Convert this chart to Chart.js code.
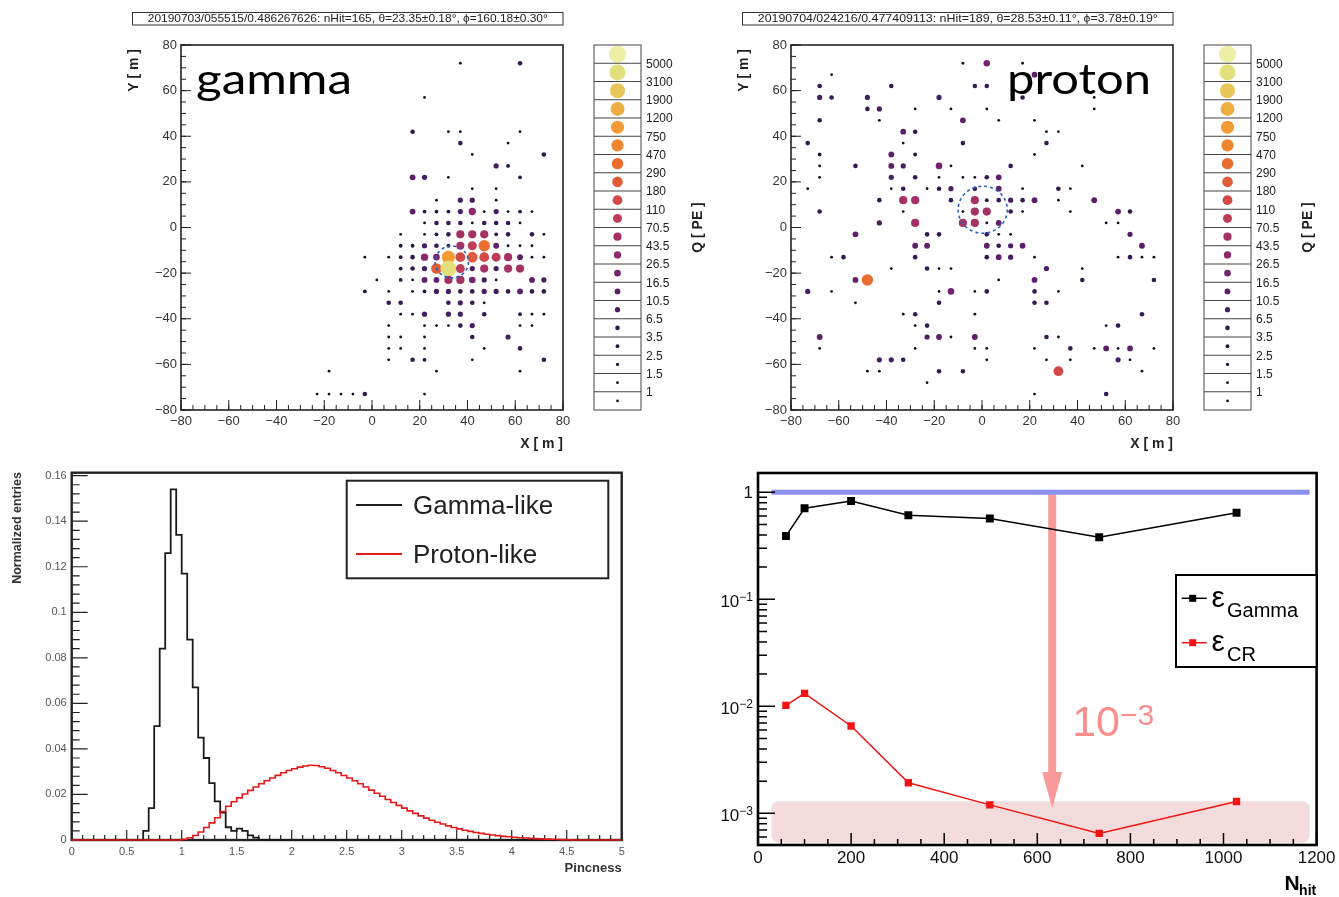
<!DOCTYPE html>
<html>
<head>
<meta charset="utf-8">
<title>Hit maps and gamma/hadron separation</title>
<script src="https://cdn.jsdelivr.net/npm/chart.js"></script>
<style>
body { margin: 0; background: #fff; }
#page { position: relative; width: 1339px; height: 897px; overflow: hidden; }
#page canvas { position: absolute; }
#gammaMap { left: 0; top: 0; }
#protonMap { left: 610px; top: 0; }
#pinchHist { left: 0; top: 455px; filter: blur(0.6px); }
#effChart { left: 700px; top: 455px; }
</style>
</head>
<body>
<div id="page">
  <canvas id="gammaMap" width="710" height="455"></canvas>
  <canvas id="protonMap" width="710" height="455"></canvas>
  <canvas id="pinchHist" width="650" height="442"></canvas>
  <canvas id="effChart" width="639" height="442"></canvas>
</div>

<script>
const SANS = '"Liberation Sans", Arial, sans-serif';
Chart.defaults.font.family = SANS;
Chart.defaults.color = '#222';

// ---------- event displays ----------
// charge bins of the colour key, in PE
const qEdges = [1, 1.5, 2.5, 3.5, 6.5, 10.5, 16.5, 26.5, 43.5, 70.5, 110, 180, 290, 470, 750, 1200, 1900, 3100, 5000];
const qColors = ['#0c0a1c', '#100c24', '#150f2c', '#22163f', '#321a52', '#471e60', '#5c2068', '#74246e',
                 '#8e2a6c', '#a63264', '#c03b58', '#d24a48', '#e05c38', '#ea6d30', '#f08530', '#f39a32',
                 '#f0ae42', '#e9c65a', '#e2df7c', '#eeeea4'];
const qRadii = [1.3, 1.4, 1.6, 1.9, 2.3, 2.6, 2.9, 3.3, 3.7, 4.1, 4.5, 4.9, 5.3, 5.7, 6.1, 6.5, 7.0, 7.5, 8.0, 8.5];

const gammaTitle = '20190703/055515/0.486267626: nHit=165, \u03b8=23.35\u00b10.18\u00b0, \u03d5=160.18\u00b10.30\u00b0';
const protonTitle = '20190704/024216/0.477409113: nHit=189, \u03b8=28.53\u00b10.11\u00b0, \u03d5=3.78\u00b10.19\u00b0';

// hits: [X (m), Y (m), Q (PE)]
const gammaHits = [
  [37, 72, 1.2], [62, 72, 5], [22, 57, 1.2], [17, 42, 5], [32, 42, 1.2], [37, 42, 1.2], [62, 42, 1.2],
  [37, 37, 5], [57, 37, 1.2],
  [42, 32, 1.2], [72, 32, 5],
  [52, 27, 8], [57, 27, 3],
  [17, 22, 13], [22, 22, 8], [32, 22, 1.2], [62, 22, 3],
  [42, 17, 1.2], [52, 17, 1.2],
  [27, 12, 1.2], [37, 12, 8], [42, 12, 8], [52, 12, 1.2],
  [17, 7, 13], [22, 7, 3], [27, 7, 3], [32, 7, 3], [37, 7, 8], [42, 7, 40], [47, 7, 1.2], [52, 7, 8],
  [57, 7, 1.2], [62, 7, 3], [67, 7, 1.2],
  [22, 2, 1.2], [27, 2, 5], [32, 2, 5], [37, 2, 5], [42, 2, 1.2], [47, 2, 5], [52, 2, 5], [57, 2, 5], [62, 2, 1.2],
  [12, -3, 1.2], [22, -3, 1.2], [27, -3, 3], [32, -3, 5], [37, -3, 55], [42, -3, 45], [47, -3, 45],
  [52, -3, 3], [57, -3, 5], [67, -3, 5], [72, -3, 1.2],
  [12, -8, 3], [17, -8, 3], [22, -8, 8], [27, -8, 5], [32, -8, 3], [37, -8, 60], [42, -8, 90], [47, -8, 350],
  [52, -8, 13], [57, -8, 1.2], [62, -8, 1.2], [67, -8, 1.2],
  [-3, -13, 1.2], [7, -13, 1.2], [12, -13, 3], [17, -13, 5], [22, -13, 40], [27, -13, 20], [32, -13, 1000],
  [37, -13, 140], [42, -13, 220], [47, -13, 140], [52, -13, 90], [57, -13, 55], [62, -13, 13], [67, -13, 1.2],
  [72, -13, 1.2],
  [12, -18, 3], [17, -18, 5], [22, -18, 8], [27, -18, 220], [32, -18, 4000], [37, -18, 90], [42, -18, 8],
  [47, -18, 50], [52, -18, 8], [57, -18, 50], [62, -18, 50],
  [2, -23, 1.2], [12, -23, 3], [17, -23, 1.2], [22, -23, 13], [27, -23, 13], [32, -23, 45], [37, -23, 45],
  [42, -23, 25], [47, -23, 8], [52, -23, 1.2], [67, -23, 13], [72, -23, 8],
  [-3, -28, 3], [7, -28, 1.2], [17, -28, 1.2], [22, -28, 3], [27, -28, 8], [32, -28, 8], [37, -28, 5],
  [42, -28, 5], [47, -28, 8], [52, -28, 8], [57, -28, 5], [62, -28, 13], [67, -28, 5], [72, -28, 5],
  [7, -33, 5], [12, -33, 5], [32, -33, 5], [37, -33, 8], [42, -33, 5], [47, -33, 1.2],
  [12, -38, 1.2], [17, -38, 1.2], [22, -38, 8], [32, -38, 8], [37, -38, 8], [47, -38, 5], [62, -38, 3],
  [67, -38, 1.2], [72, -38, 1.2],
  [7, -43, 1.2], [22, -43, 1.2], [27, -43, 1.2], [32, -43, 1.2], [37, -43, 5], [42, -43, 8], [62, -43, 1.2],
  [67, -43, 1.2],
  [7, -48, 1.2], [12, -48, 1.2], [22, -48, 1.2], [42, -48, 5], [57, -48, 8],
  [7, -53, 1.2], [12, -53, 1.2], [22, -53, 1.2], [47, -53, 1.2], [62, -53, 5],
  [7, -58, 1.2], [17, -58, 5], [22, -58, 3], [42, -58, 1.2], [72, -58, 5],
  [-18, -63, 1.2], [27, -63, 1.2], [62, -63, 1.2],
  [-23, -73, 1.2], [-18, -73, 1.2], [-13, -73, 1.2], [-8, -73, 1.2], [-3, -73, 5], [22, -73, 1.2]
];

const protonHits = [
  [-73, 37, 5], [-68, 62, 5], [-68, 57, 8], [-68, 47, 5], [-63, 67, 1.2], [-63, 57, 5], [-48, 57, 8],
  [-48, 52, 5], [-43, 52, 8], [-43, 47, 1.2], [-38, 62, 5], [-33, 42, 13], [-33, 37, 1.2], [-28, 52, 1.2],
  [-28, 42, 5], [-18, 57, 8], [-13, 52, 1.2], [-8, 72, 1.2], [-8, 47, 13], [-8, 37, 5], [-3, 62, 5],
  [2, 72, 20], [2, 62, 5], [2, 52, 1.2], [7, 47, 1.2], [17, 72, 1.2], [17, 57, 5], [22, 67, 13],
  [22, 47, 1.2], [27, 42, 1.2], [27, 37, 5], [32, 42, 1.2], [47, 57, 1.2], [47, 52, 1.2],
  [-68, 32, 3], [-38, 32, 13], [-28, 32, 3], [22, 32, 1.2],
  [-68, 27, 1.2], [-53, 27, 5], [-38, 27, 13], [-33, 27, 8], [-18, 27, 20], [-13, 27, 1.2], [12, 27, 5],
  [42, 27, 1.2],
  [-68, 22, 1.2], [-38, 22, 8], [-28, 22, 5], [-18, 22, 1.2], [-8, 22, 1.2], [-3, 22, 1.2], [2, 22, 5],
  [7, 22, 15],
  [-73, 17, 1.2], [-38, 17, 1.2], [-33, 17, 5], [-23, 17, 1.2], [-18, 17, 5], [-13, 17, 8], [-3, 17, 5],
  [7, 17, 13], [17, 17, 1.2], [32, 17, 5], [37, 17, 1.2],
  [-43, 12, 5], [-33, 12, 55], [-28, 12, 55], [-13, 12, 5], [-3, 12, 55], [2, 12, 3], [7, 12, 5],
  [12, 12, 8], [17, 12, 5], [22, 12, 13], [32, 12, 1.2], [47, 12, 13],
  [-68, 7, 5], [-33, 7, 1.2], [-8, 7, 1.2], [-3, 7, 55], [2, 7, 55], [12, 7, 5], [17, 7, 1.2], [37, 7, 1.2],
  [57, 7, 15], [62, 7, 5],
  [-43, 2, 8], [-28, 2, 50], [-8, 2, 45], [-3, 2, 45], [2, 2, 1.2], [7, 2, 13], [52, 2, 1.2], [57, 2, 1.2],
  [-53, -3, 13], [-23, -3, 5], [-18, -3, 5], [2, -3, 5], [7, -3, 1.2], [12, -3, 1.2], [62, -3, 8],
  [-28, -8, 13], [-23, -8, 13], [2, -8, 15], [7, -8, 5], [12, -8, 8], [17, -8, 15], [67, -8, 15],
  [-63, -13, 1.2], [-58, -13, 5], [-28, -13, 5], [2, -13, 5], [7, -13, 15], [12, -13, 8], [22, -13, 1.2],
  [57, -13, 1.2], [62, -13, 5], [67, -13, 1.2], [72, -13, 1.2],
  [-38, -18, 1.2], [-23, -18, 5], [-18, -18, 1.2], [-13, -18, 1.2], [27, -18, 8], [42, -18, 1.2],
  [-53, -23, 15], [-48, -23, 350], [7, -23, 1.2], [22, -23, 13], [42, -23, 5], [72, -23, 5],
  [-73, -28, 8], [-63, -28, 1.2], [-18, -28, 1.2], [-13, -28, 20], [-3, -28, 1.2], [2, -28, 5],
  [22, -28, 5], [32, -28, 1.2],
  [-53, -33, 1.2], [-18, -33, 5], [22, -33, 5], [27, -33, 5],
  [-33, -38, 1.2], [-28, -38, 5], [-3, -38, 1.2], [67, -38, 5],
  [-28, -43, 1.2], [-23, -43, 5], [52, -43, 1.2], [57, -43, 5],
  [-68, -48, 15], [-23, -48, 8], [-18, -48, 15], [-13, -48, 1.2], [-3, -48, 15], [27, -48, 5], [32, -48, 1.2],
  [-68, -53, 1.2], [-28, -53, 1.2], [-3, -53, 1.2], [2, -53, 1.2], [22, -53, 1.2], [37, -53, 5],
  [47, -53, 1.2], [52, -53, 15], [57, -53, 1.2], [62, -53, 15], [72, -53, 1.2],
  [-43, -58, 8], [-38, -58, 8], [-33, -58, 5], [2, -58, 1.2], [27, -58, 1.2], [37, -58, 1.2], [57, -58, 8],
  [62, -58, 1.2],
  [-48, -63, 1.2], [-43, -63, 1.2], [-18, -63, 5], [-8, -63, 5], [32, -63, 150], [67, -63, 1.2],
  [-23, -68, 1.2],
  [22, -73, 1.2], [52, -73, 5]
];

// reconstructed core: [X, Y, radius] in m
const gammaCore = [33.4, -15.1, 7.0];
const protonCore = [0.3, 7.8, 10.3];

// ---------- pincness ----------
const pinchBinWidth = 0.05;
const gammaLikeStart = 0.65;
const gammaLike = [0.004, 0.014, 0.050, 0.084, 0.126, 0.154, 0.134, 0.117, 0.088, 0.067, 0.045,
                   0.036, 0.025, 0.017, 0.012, 0.0056, 0.004, 0.005, 0.004, 0.002, 0.001];
const protonLikeStart = 1.0;
const protonLike = [0.0003, 0.001, 0.002, 0.0035, 0.0055, 0.0075, 0.0098, 0.0125, 0.0148, 0.0168,
                    0.0185, 0.0202, 0.0218, 0.0233, 0.0247, 0.0260, 0.0272, 0.0284, 0.0295, 0.0305,
                    0.0313, 0.0320, 0.0325, 0.0328, 0.0327, 0.0322, 0.0315, 0.0305, 0.0295, 0.0283,
                    0.0272, 0.0260, 0.0247, 0.0233, 0.0219, 0.0205, 0.0192, 0.0178, 0.0165, 0.0152,
                    0.0140, 0.0128, 0.0117, 0.0106, 0.0096, 0.0087, 0.0078, 0.0070, 0.0062, 0.0055,
                    0.0049, 0.0043, 0.0038, 0.0033, 0.0029, 0.0025, 0.0022, 0.0019, 0.0016, 0.0014,
                    0.0012, 0.0010, 0.0009, 0.0007, 0.0006, 0.0005, 0.0004, 0.0003, 0.0002, 0.00015,
                    0.0001];

// ---------- efficiencies vs nHit ----------
const nHitPoints = [60, 100, 200, 323, 498, 733, 1028];
const effGamma = [0.39, 0.71, 0.83, 0.61, 0.57, 0.38, 0.645];
const effCR = [0.0102, 0.0132, 0.00655, 0.00193, 0.00120, 0.00065, 0.00129];
const unityX = [29, 1185];
const cutBandX = [29, 1185];
const cutBandY = [5.3e-4, 1.3e-3];
const arrowX = 632;
const arrowY = [1, 1.12e-3];
const effTickExponents = [0, -1, -2, -3];

function qBin(q) {
  let b = 0;
  while (b < qEdges.length && q >= qEdges[b]) b++;
  return b;
}

const minus = v => (v < 0 ? '\u2212' + Math.abs(v) : String(v));
const plain = v => String(+Number(v).toFixed(3));

// ROOT-like frame with inward ticks
function drawFrame(chart, o) {
  const { ctx, chartArea: a } = chart;
  const sx = chart.scales.x, sy = chart.scales.y;
  ctx.save();
  ctx.strokeStyle = o.color;
  ctx.lineWidth = o.tickWidth;
  ctx.beginPath();
  for (const [step, len] of o.xTicks) {
    for (let i = Math.ceil(sx.min / step - 1e-6); i * step <= sx.max + 1e-9; i++) {
      const px = sx.getPixelForValue(i * step);
      ctx.moveTo(px, a.bottom);
      ctx.lineTo(px, a.bottom - len);
    }
  }
  if (o.logY) {
    const [majorLen, minorLen] = o.logY;
    for (let d = Math.floor(Math.log10(sy.min)); d <= Math.ceil(Math.log10(sy.max)); d++) {
      for (let m = 1; m <= 9; m++) {
        const v = m * Math.pow(10, d);
        if (v < sy.min || v > sy.max) continue;
        const py = sy.getPixelForValue(v);
        ctx.moveTo(a.left, py);
        ctx.lineTo(a.left + (m === 1 ? majorLen : minorLen), py);
      }
    }
  } else {
    for (const [step, len] of o.yTicks) {
      for (let i = Math.ceil(sy.min / step - 1e-6); i * step <= sy.max + 1e-9; i++) {
        const py = sy.getPixelForValue(i * step);
        ctx.moveTo(a.left, py);
        ctx.lineTo(a.left + len, py);
      }
    }
  }
  ctx.stroke();
  ctx.lineWidth = o.frameWidth;
  ctx.strokeRect(a.left, a.top, a.right - a.left, a.bottom - a.top);
  ctx.restore();
}

const rootFrame = {
  id: 'rootFrame',
  beforeDatasetsDraw(chart, args, o) { if (o.under) drawFrame(chart, o); },
  afterDatasetsDraw(chart, args, o) { if (!o.under) drawFrame(chart, o); }
};

function rotatedText(ctx, text, x, y, align) {
  ctx.save();
  ctx.translate(x, y);
  ctx.rotate(-Math.PI / 2);
  ctx.textAlign = align;
  ctx.textBaseline = 'middle';
  ctx.fillText(text, 0, 0);
  ctx.restore();
}

// title box, big label, core circle and the charge key of an event display
const hitDecor = {
  id: 'hitDecor',
  beforeDatasetsDraw(chart, args, o) {
    const { ctx, chartArea: a } = chart;
    ctx.save();
    ctx.font = '42px Lato';
    ctx.fillStyle = '#000';
    ctx.textBaseline = 'alphabetic';
    const w = ctx.measureText(o.word).width;
    ctx.translate(a.left + o.wordX, 94);
    ctx.scale(o.wordW / w, 1);
    ctx.fillText(o.word, 0, 0);
    ctx.restore();
  },
  afterDatasetsDraw(chart, args, o) {
    const { ctx } = chart;
    const sx = chart.scales.x, sy = chart.scales.y;
    const [cx, cy, r] = o.core;
    const px = sx.getPixelForValue(cx), py = sy.getPixelForValue(cy);
    const rx = Math.abs(sx.getPixelForValue(cx + r) - px);
    const ry = Math.abs(sy.getPixelForValue(cy + r) - py);
    ctx.save();
    ctx.strokeStyle = '#2a62c4';
    ctx.lineWidth = 1.6;
    ctx.setLineDash([3, 3]);
    ctx.beginPath();
    ctx.ellipse(px, py, rx, ry, 0, 0, Math.PI * 2);
    ctx.stroke();
    ctx.restore();
  },
  afterDraw(chart, args, o) {
    const { ctx, chartArea: a } = chart;
    ctx.save();
    // event title
    const tl = a.left - 48.5;
    ctx.strokeStyle = '#333';
    ctx.lineWidth = 1;
    ctx.strokeRect(tl, 12.5, a.right - tl, 12.5);
    ctx.fillStyle = '#222';
    ctx.font = '11px ' + SANS;
    ctx.textBaseline = 'middle';
    ctx.textAlign = 'left';
    const tw = ctx.measureText(o.title).width;
    ctx.translate((tl + a.right) / 2 - o.titleW / 2, 19.2);
    ctx.scale(o.titleW / tw, 1);
    ctx.fillText(o.title, 0, 0);
    ctx.setTransform(1, 0, 0, 1, 0, 0);

    // axis titles
    ctx.font = 'bold 14px ' + SANS;
    ctx.textAlign = 'right';
    ctx.textBaseline = 'alphabetic';
    ctx.fillText('X [ m ]', a.right, 448);
    rotatedText(ctx, 'Y [ m ]', 134, 49, 'right');

    // charge key
    const L = a.right + 31, R = a.right + 78, T = a.top, B = a.bottom;
    const n = qColors.length, h = (B - T) / n;
    for (let i = 0; i < n; i++) {
      const bin = n - 1 - i;
      ctx.fillStyle = qColors[bin];
      ctx.beginPath();
      ctx.arc((L + R) / 2, T + (i + 0.5) * h, qRadii[bin], 0, Math.PI * 2);
      ctx.fill();
    }
    ctx.strokeStyle = '#444';
    ctx.lineWidth = 1;
    ctx.strokeRect(L, T, R - L, B - T);
    ctx.beginPath();
    for (let k = 1; k < n; k++) {
      ctx.moveTo(L, T + k * h);
      ctx.lineTo(R, T + k * h);
    }
    ctx.stroke();
    ctx.fillStyle = '#222';
    ctx.font = '12px ' + SANS;
    ctx.textAlign = 'left';
    ctx.textBaseline = 'middle';
    for (let k = 1; k < n; k++) ctx.fillText(String(qEdges[n - 1 - k]), R + 5, T + k * h + 1);
    ctx.font = 'bold 14px ' + SANS;
    rotatedText(ctx, 'Q [ PE ]', a.right + 135, (T + B) / 2, 'center');
    ctx.restore();
  }
};

function drawHitMap(canvasId, hits, title, word, wordX, wordW, core) {
  const radius = c => (c.raw ? qRadii[qBin(c.raw.q)] : 2);
  return new Chart(document.getElementById(canvasId), {
    type: 'scatter',
    data: {
      datasets: [{
        data: hits.map(([x, y, q]) => ({ x, y, q })),
        pointRadius: radius,
        pointHoverRadius: radius,
        pointBackgroundColor: c => (c.raw ? qColors[qBin(c.raw.q)] : '#000'),
        pointBorderWidth: 0
      }]
    },
    options: {
      responsive: false,
      animation: false,
      devicePixelRatio: 1,
      events: [],
      layout: { padding: { left: 121, right: 147, top: 45, bottom: 0 } },
      plugins: {
        legend: { display: false },
        tooltip: { enabled: false },
        rootFrame: { color: '#222', tickWidth: 1, frameWidth: 1.6,
                     xTicks: [[5, 5], [20, 10]], yTicks: [[5, 5], [20, 10]] },
        hitDecor: { title, titleW: 400, word, wordX, wordW, core }
      },
      scales: {
        x: {
          type: 'linear', min: -80, max: 80,
          grid: { display: false, drawTicks: false }, border: { display: false },
          ticks: { stepSize: 20, autoSkip: false, maxRotation: 0, padding: 4,
                   font: { size: 13 }, color: '#333', callback: minus },
          afterFit: s => { s.height = 45; }
        },
        y: {
          type: 'linear', min: -80, max: 80,
          grid: { display: false, drawTicks: false }, border: { display: false },
          ticks: { stepSize: 20, autoSkip: false, padding: 4,
                   font: { size: 13 }, color: '#333', callback: minus },
          afterFit: s => { s.width = 60; }
        }
      }
    },
    plugins: [rootFrame, hitDecor]
  });
}

drawHitMap('gammaMap', gammaHits, gammaTitle, 'gamma', 15, 156, gammaCore);
drawHitMap('protonMap', protonHits, protonTitle, 'proton', 216, 144, protonCore);

// ---------- pincness histograms ----------
function histPoints(start, vals) {
  const pts = [{ x: 0, y: 0 }];
  vals.forEach((v, i) => pts.push({ x: +(start + i * pinchBinWidth).toFixed(3), y: v }));
  pts.push({ x: +(start + vals.length * pinchBinWidth).toFixed(3), y: 0 });
  pts.push({ x: 5, y: 0 });
  return pts;
}

const histDecor = {
  id: 'histDecor',
  afterDraw(chart) {
    const { ctx, chartArea: a } = chart;
    ctx.save();
    const L = 346.7, T = 25.7, R = 608.3, B = 123.3;
    ctx.fillStyle = '#fff';
    ctx.fillRect(L, T, R - L, B - T);
    ctx.strokeStyle = '#222';
    ctx.lineWidth = 2;
    ctx.strokeRect(L, T, R - L, B - T);
    const rows = [50, 99];
    ctx.font = '26px ' + SANS;
    ctx.textAlign = 'left';
    ctx.textBaseline = 'middle';
    chart.data.datasets.slice().reverse().forEach((ds, i) => {
      ctx.strokeStyle = ds.borderColor;
      ctx.lineWidth = 1.8;
      ctx.beginPath();
      ctx.moveTo(356, rows[i]);
      ctx.lineTo(402, rows[i]);
      ctx.stroke();
      ctx.fillStyle = '#222';
      ctx.fillText(ds.label, 413, rows[i] + 2);
    });
    ctx.fillStyle = '#333';
    ctx.font = 'bold 12.5px ' + SANS;
    rotatedText(ctx, 'Normalized entries', 18, 17, 'right');
    ctx.textAlign = 'right';
    ctx.textBaseline = 'alphabetic';
    ctx.font = 'bold 13px ' + SANS;
    ctx.fillText('Pincness', a.right, 417);
    ctx.restore();
  }
};

new Chart(document.getElementById('pinchHist'), {
  type: 'line',
  data: {
    datasets: [
      { label: 'Proton-like', data: histPoints(protonLikeStart, protonLike), borderColor: '#e4191b',
        borderWidth: 1.6, pointRadius: 0, stepped: true, fill: false, clip: 4 },
      { label: 'Gamma-like', data: histPoints(gammaLikeStart, gammaLike), borderColor: '#1a1a1a',
        borderWidth: 1.8, pointRadius: 0, stepped: true, fill: false, clip: 4 }
    ]
  },
  options: {
    responsive: false,
    animation: false,
    devicePixelRatio: 1,
    events: [],
    layout: { padding: { left: 0, right: 28.3, top: 17.7, bottom: 0 } },
    plugins: {
      legend: { display: false },
      tooltip: { enabled: false },
      rootFrame: { under: true, color: '#222', tickWidth: 1.2, frameWidth: 2.4,
                   xTicks: [[0.1, 5], [0.5, 10]], yTicks: [[0.004, 8], [0.02, 16]] }
    },
    scales: {
      x: {
        type: 'linear', min: 0, max: 5,
        grid: { display: false, drawTicks: false }, border: { display: false },
        ticks: { stepSize: 0.5, autoSkip: false, maxRotation: 0, padding: 5,
                 font: { size: 11 }, color: '#555', callback: plain },
        afterFit: s => { s.height = 57; }
      },
      y: {
        type: 'linear', min: 0, max: 0.1613,
        grid: { display: false, drawTicks: false }, border: { display: false },
        ticks: { stepSize: 0.02, includeBounds: false, autoSkip: false, padding: 5,
                 font: { size: 11 }, color: '#555', callback: plain },
        afterFit: s => { s.width = 71.7; }
      }
    }
  },
  plugins: [rootFrame, histDecor]
});

// ---------- efficiencies ----------
const effDecor = {
  id: 'effDecor',
  beforeDatasetsDraw(chart) {
    const { ctx } = chart;
    const sx = chart.scales.x, sy = chart.scales.y;
    ctx.save();
    // background level band
    const bx0 = sx.getPixelForValue(cutBandX[0]), bx1 = sx.getPixelForValue(cutBandX[1]);
    const by0 = sy.getPixelForValue(cutBandY[1]), by1 = sy.getPixelForValue(cutBandY[0]);
    ctx.fillStyle = '#f4dcdc';
    ctx.beginPath();
    ctx.roundRect(bx0, by0, bx1 - bx0, by1 - by0, 7);
    ctx.fill();
    // rejection arrow
    const ax = sx.getPixelForValue(arrowX);
    const yTop = sy.getPixelForValue(arrowY[0]) + 2;
    const yTip = sy.getPixelForValue(arrowY[1]);
    const headLen = 36, headHalf = 10, shaft = 8;
    ctx.fillStyle = '#fa9a9a';
    ctx.fillRect(ax - shaft / 2, yTop, shaft, yTip - headLen - yTop);
    ctx.beginPath();
    ctx.moveTo(ax - headHalf, yTip - headLen);
    ctx.lineTo(ax + headHalf, yTip - headLen);
    ctx.lineTo(ax, yTip);
    ctx.closePath();
    ctx.fill();
    ctx.restore();
  },
  afterDraw(chart) {
    const { ctx, chartArea: a } = chart;
    const sx = chart.scales.x, sy = chart.scales.y;
    ctx.save();
    // decade labels
    ctx.fillStyle = '#111';
    ctx.textAlign = 'right';
    ctx.textBaseline = 'alphabetic';
    const right = a.left - 5;
    for (const d of effTickExponents) {
      const py = sy.getPixelForValue(Math.pow(10, d));
      if (d === 0) {
        ctx.font = '17px ' + SANS;
        ctx.fillText('1', right, py + 6);
        continue;
      }
      const sup = '\u2212' + (-d);
      ctx.font = '12px ' + SANS;
      const sw = ctx.measureText(sup).width;
      ctx.fillText(sup, right, py + 2);
      ctx.font = '17px ' + SANS;
      ctx.fillText('10', right - sw, py + 7.5);
    }

    // rejection factor
    const ax = sx.getPixelForValue(arrowX);
    ctx.fillStyle = '#f88e8e';
    ctx.textAlign = 'left';
    ctx.font = '43px ' + SANS;
    ctx.fillText('10', ax + 20, a.top + 263);
    const w10 = ctx.measureText('10').width;
    ctx.font = '30px ' + SANS;
    ctx.fillText('\u22123', ax + 20 + w10, a.top + 252);

    // legend
    const L = a.right - 140.6, T = a.top + 102, W = 140.6, H = 92;
    ctx.fillStyle = '#fff';
    ctx.fillRect(L, T, W, H);
    ctx.strokeStyle = '#000';
    ctx.lineWidth = 2;
    ctx.strokeRect(L, T, W, H);
    const entries = [[chart.data.datasets[1], 'Gamma', 23.3], [chart.data.datasets[2], 'CR', 67.7]];
    for (const [ds, sub, dy] of entries) {
      const y = T + dy;
      ctx.strokeStyle = ds.borderColor;
      ctx.lineWidth = 1.5;
      ctx.beginPath();
      ctx.moveTo(L + 5.7, y);
      ctx.lineTo(L + 30.7, y);
      ctx.stroke();
      ctx.fillStyle = ds.borderColor;
      ctx.fillRect(L + 16.7 - 3.5, y - 3.5, 7, 7);
      ctx.fillStyle = '#000';
      ctx.font = '30px ' + SANS;
      ctx.fillText('\u03b5', L + 35.5, y + 8.5);
      ctx.font = '20px ' + SANS;
      ctx.fillText(sub, L + 51, y + 18.5);
    }

    // axis title
    ctx.fillStyle = '#000';
    ctx.font = 'bold 21px ' + SANS;
    ctx.fillText('N', a.right - 32, 435);
    ctx.font = 'bold 14px ' + SANS;
    ctx.fillText('hit', a.right - 17.5, 440);
    ctx.restore();
  }
};

new Chart(document.getElementById('effChart'), {
  type: 'line',
  data: {
    datasets: [
      { label: 'unity', data: unityX.map(x => ({ x, y: 1 })), borderColor: '#8b8ff0',
        borderWidth: 5, pointRadius: 0, order: 3 },
      { label: 'Gamma', data: nHitPoints.map((x, i) => ({ x, y: effGamma[i] })), borderColor: '#000',
        backgroundColor: '#000', borderWidth: 1.5, pointStyle: 'rect', pointRadius: 5.6,
        pointBorderWidth: 0, order: 2 },
      { label: 'CR', data: nHitPoints.map((x, i) => ({ x, y: effCR[i] })), borderColor: '#f01414',
        backgroundColor: '#f01414', borderWidth: 1.5, pointStyle: 'rect', pointRadius: 5.2,
        pointBorderWidth: 0, order: 1 }
    ]
  },
  options: {
    responsive: false,
    animation: false,
    devicePixelRatio: 1,
    events: [],
    layout: { padding: { left: 0, right: 22.4, top: 18, bottom: 0 } },
    plugins: {
      legend: { display: false },
      tooltip: { enabled: false },
      rootFrame: { color: '#000', tickWidth: 1.5, frameWidth: 2.6,
                   xTicks: [[50, 6], [200, 12]], logY: [17, 9] }
    },
    scales: {
      x: {
        type: 'linear', min: 0, max: 1200,
        grid: { display: false, drawTicks: false }, border: { display: false },
        ticks: { stepSize: 200, autoSkip: false, maxRotation: 0, padding: 3,
                 font: { size: 17 }, color: '#111', callback: v => String(v) },
        afterFit: s => { s.height = 52; }
      },
      y: {
        type: 'logarithmic', min: 5.06e-4, max: 1.515,
        grid: { display: false, drawTicks: false }, border: { display: false },
        ticks: { display: false },
        afterFit: s => { s.width = 58; }
      }
    }
  },
  plugins: [rootFrame, effDecor]
});
</script>
</body>
</html>
